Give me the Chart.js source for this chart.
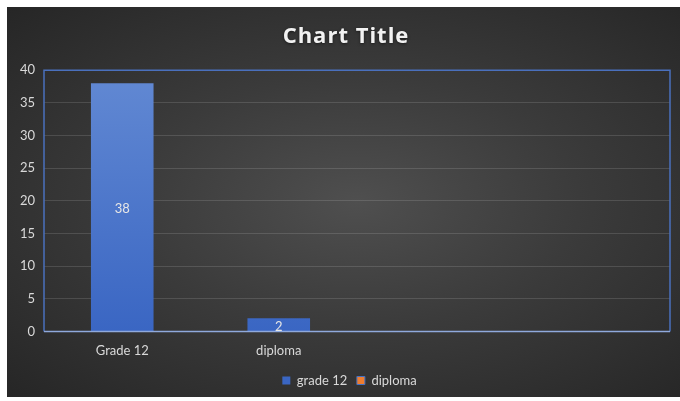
<!DOCTYPE html>
<html>
<head>
<meta charset="utf-8">
<script src="https://cdn.jsdelivr.net/npm/chart.js@4/dist/chart.umd.min.js"></script>
<style>
  html, body { margin: 0; padding: 0; background: #ffffff; }
  #wrap { position: relative; width: 680px; height: 401px; }
  #bg { position: absolute; left: 7px; top: 7px; width: 673px; height: 390px;
        background: radial-gradient(ellipse at 52% 50%, #4f4f4f 0%, #3b3b3b 45%, #262626 100%); }
  canvas { position: absolute; left: 0; top: 0; }
</style>
</head>
<body>
<div id="wrap"><div id="bg"></div><canvas id="c" width="680" height="401"></canvas></div>
<script>
const categories = ["Grade 12", "diploma", "", ""];
const grade12Values = [38, 2, null, null];
const diplomaValues = [null, null, null, null];
const seriesNames = ["grade 12", "diploma"];
const yTicks = [0, 5, 10, 15, 20, 25, 30, 35, 40];
const titleText = "Chart Title";

const FONT = "Lato, 'Open Sans', 'Noto Sans', sans-serif";

const frame = {
  id: 'frame',
  afterLayout(chart) {
    if (chart.legend) chart.legend.left += 22;
  },
  afterDatasetsDraw(chart) {
    const {ctx, chartArea: a} = chart;
    ctx.save();
    ctx.strokeStyle = '#4a70bd';
    ctx.lineWidth = 1.5;
    ctx.beginPath();
    ctx.moveTo(a.left, a.bottom);
    ctx.lineTo(a.left, a.top);
    ctx.lineTo(a.right, a.top);
    ctx.lineTo(a.right, a.bottom);
    ctx.stroke();
    ctx.strokeStyle = '#8fa9dc';
    ctx.beginPath();
    ctx.moveTo(a.left, a.bottom);
    ctx.lineTo(a.right, a.bottom);
    ctx.stroke();
    // data labels
    ctx.fillStyle = '#e6e6e6';
    ctx.font = "13px " + FONT;
    ctx.textAlign = 'center';
    ctx.textBaseline = 'middle';
    chart.data.datasets.forEach((ds, di) => {
      const meta = chart.getDatasetMeta(di);
      meta.data.forEach((bar, i) => {
        const v = ds.data[i];
        if (v === null || v === undefined) return;
        const mid = (bar.y + bar.base) / 2;
        ctx.fillText(String(v), bar.x, mid + 2);
      });
    });
    ctx.restore();
  },
  afterDraw(chart) {
    const tb = chart.titleBlock;
    if (!tb) return;
    const ctx = chart.ctx;
    ctx.save();
    ctx.fillStyle = '#f2f2f2';
    ctx.font = "bold 22px 'Open Sans', Lato, sans-serif";
    if ('letterSpacing' in ctx) ctx.letterSpacing = '1px';
    ctx.textAlign = 'center';
    ctx.textBaseline = 'middle';
    ctx.shadowColor = 'rgba(0,0,0,0.5)';
    ctx.shadowBlur = 3;
    ctx.shadowOffsetY = 1;
    ctx.fillText(titleText, chart.width / 2 + 6, (tb.top + tb.bottom) / 2 - 2);
    ctx.restore();
  }
};

function barGradient(context) {
  const chart = context.chart;
  const a = chart.chartArea;
  if (!a) return '#4472c4';
  const g = chart.ctx.createLinearGradient(0, a.top, 0, a.bottom);
  g.addColorStop(0, '#6289d3');
  g.addColorStop(1, '#3a66c3');
  return g;
}

new Chart(document.getElementById('c'), {
  type: 'bar',
  data: {
    labels: categories,
    datasets: [
      { label: seriesNames[0], data: grade12Values, backgroundColor: barGradient,
        borderWidth: 0, categoryPercentage: 0.4, barPercentage: 1.0 },
      { label: seriesNames[1], data: diplomaValues, backgroundColor: '#ed7d31',
        borderColor: '#4472c4', borderWidth: 1, categoryPercentage: 0.4, barPercentage: 1.0 }
    ]
  },
  options: {
    responsive: false,
    animation: false,
    layout: { padding: { left: 7, right: 10, top: 7, bottom: 4 } },
    datasets: { bar: { grouped: false } },
    plugins: {
      title: {
        display: true, text: titleText, color: 'rgba(0,0,0,0)',
        font: { family: FONT, size: 21, weight: 'bold' },
        padding: { top: 17, bottom: 21 }
      },
      legend: {
        position: 'bottom',
        labels: {
          color: '#d9d9d9', boxWidth: 8, boxHeight: 8, padding: 3,
          font: { family: FONT, size: 13 },
          generateLabels(chart) {
            const items = Chart.defaults.plugins.legend.labels.generateLabels(chart);
            items.forEach((it, i) => { if (i < items.length - 1) it.text = it.text + '  '; });
            return items;
          }
        }
      },
      tooltip: { enabled: false }
    },
    scales: {
      x: {
        grid: { display: false, drawTicks: false },
        border: { display: false },
        ticks: { color: '#d9d9d9', font: { family: FONT, size: 13 }, padding: 12 }
      },
      y: {
        min: 0, max: 40,
        afterBuildTicks(scale) { scale.ticks = yTicks.map(v => ({ value: v })); },
        afterFit(scale) { scale.width = 37; },
        grid: { color: 'rgba(255,255,255,0.13)', drawTicks: false },
        border: { display: false },
        ticks: { color: '#d9d9d9', font: { family: FONT, size: 13 }, padding: 9 }
      }
    }
  },
  plugins: [frame]
});
</script>
</body>
</html>
